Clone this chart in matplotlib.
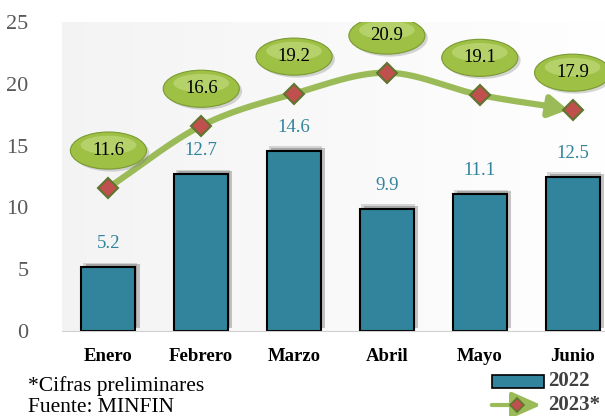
import numpy as np
import matplotlib
matplotlib.use("Agg")
import matplotlib.pyplot as plt
from matplotlib.patches import Ellipse, Rectangle, FancyArrowPatch
from matplotlib.lines import Line2D
import matplotlib.patheffects as pe

plt.rcParams['font.family'] = ['Liberation Serif', 'DejaVu Serif']

meses = ['Enero', 'Febrero', 'Marzo', 'Abril', 'Mayo', 'Junio']
v2022 = [5.2, 12.7, 14.6, 9.9, 11.1, 12.5]
v2023 = [11.6, 16.6, 19.2, 20.9, 19.1, 17.9]

teal = '#31849B'
verde = '#9BBB59'
rojo = '#C0504D'

fig = plt.figure(figsize=(6.05, 4.16), dpi=100)
# axes wider than the figure on the right, like the cropped original
ax = fig.add_axes([62 / 605, (416 - 331) / 416, 557 / 605, 309 / 416])

x = np.arange(len(meses))

# very faint background gradient
grad = np.linspace(0.955, 1.0, 256).reshape(1, -1)
ax.imshow(np.dstack([grad, grad, grad]), extent=[-0.5, 5.5, 0, 25], aspect='auto', zorder=0)

bars = ax.bar(x, v2022, width=0.58, color=teal, edgecolor='black', linewidth=1.5, zorder=2)
for b in bars:
    b.set_path_effects([pe.SimplePatchShadow(offset=(3, 2), shadow_rgbFace='#444444', alpha=0.3),
                        pe.SimplePatchShadow(offset=(1, 3), shadow_rgbFace='#444444', alpha=0.2),
                        pe.Normal()])
for xi, v in zip(x, v2022):
    ax.text(xi, v + 1.2, f'{v}', ha='center', va='bottom', color=teal, fontsize=13.5, zorder=5)

# smooth line (Catmull-Rom through the points)
xs, ys = [], []
px = np.array(x, dtype=float)
py = np.array(v2023, dtype=float)
for i in range(len(px) - 1):
    p0 = py[i - 1] if i > 0 else py[i]
    p3 = py[i + 2] if i + 2 < len(py) else py[i + 1]
    m1 = (py[i + 1] - p0) / (2 if i > 0 else 1)
    m2 = (p3 - py[i]) / (2 if i + 2 < len(py) else 1)
    t = np.linspace(0, 1, 30)
    h00 = 2 * t**3 - 3 * t**2 + 1
    h10 = t**3 - 2 * t**2 + t
    h01 = -2 * t**3 + 3 * t**2
    h11 = t**3 - t**2
    xs.extend(px[i] + t)
    ys.extend(h00 * py[i] + h10 * m1 + h01 * py[i + 1] + h11 * m2)
xs = np.array(xs)
ys = np.array(ys)
cut = xs <= 4.75
ax.plot(xs[cut], ys[cut], color=verde, lw=4.5, solid_capstyle='butt', zorder=3)
ax.annotate('', xy=(xs[-1] - 0.05, ys[-1]), xytext=(xs[cut][-1] - 0.02, ys[cut][-1]),
            arrowprops=dict(arrowstyle='-|>,head_length=1.1,head_width=0.65', color=verde, lw=4.5,
                            shrinkA=0, shrinkB=0), zorder=3)
ax.plot(x, v2023, ls='none', marker='D', ms=10, mfc=rojo, mec='#5F7530', mew=1.5, zorder=4)

for xi, v in zip(x, v2023):
    sh = Ellipse((xi + 0.03, v + 2.8), 0.82, 3.0, facecolor='#777777', alpha=0.3, edgecolor='none', zorder=5)
    ax.add_patch(sh)
    e = Ellipse((xi, v + 3.0), 0.82, 3.0, facecolor='#9DC045', edgecolor='#7A9A32', lw=0.8, zorder=6)
    ax.add_patch(e)
    hl = Ellipse((xi, v + 3.45), 0.6, 1.5, facecolor='#C9E08A', alpha=0.55, edgecolor='none', zorder=6)
    ax.add_patch(hl)
    ax.text(xi, v + 3.0, f'{v}', ha='center', va='center', fontsize=13.5, color='black', zorder=7)

ax.set_xlim(-0.5, 5.5)
ax.set_ylim(0, 25)
ax.set_yticks([0, 5, 10, 15, 20, 25])
ax.tick_params(axis='y', length=0, labelsize=16, pad=24, labelcolor='#595959')
ax.set_xticks(x)
ax.set_xticklabels(meses, fontweight='bold', fontsize=13.5)
ax.tick_params(axis='x', length=0, pad=12)
for s in ['top', 'right', 'left']:
    ax.spines[s].set_visible(False)
ax.spines['bottom'].set_color('#D0D0D0')

# footnotes
fig.text(28 / 605, 1 - 386 / 416, '*Cifras preliminares', fontsize=15.5, va='center')
fig.text(28 / 605, 1 - 408 / 416, 'Fuente: MINFIN', fontsize=15.5, va='center')

# legend
fig.patches.append(Rectangle((492 / 605, 1 - 388 / 416), 52 / 605, 13 / 416, transform=fig.transFigure,
                             facecolor=teal, edgecolor='black', lw=1.2))
fig.text(548 / 605, 1 - 381 / 416, '2022', fontsize=15, fontweight='bold', color='#404040', va='center')
fig.patches.append(FancyArrowPatch((489 / 605, 1 - 405 / 416), (544 / 605, 1 - 405 / 416),
                                   transform=fig.transFigure, arrowstyle='-|>,head_length=18,head_width=8',
                                   mutation_scale=1, color=verde, lw=3))
fig.lines.append(Line2D([517 / 605], [1 - 405 / 416], transform=fig.transFigure, marker='D', ms=7,
                        mfc=rojo, mec='#5F7530', mew=1.2))
fig.text(548 / 605, 1 - 405 / 416, '2023*', fontsize=15, fontweight='bold', color='#404040', va='center')

fig.savefig('out.png', dpi=100)
